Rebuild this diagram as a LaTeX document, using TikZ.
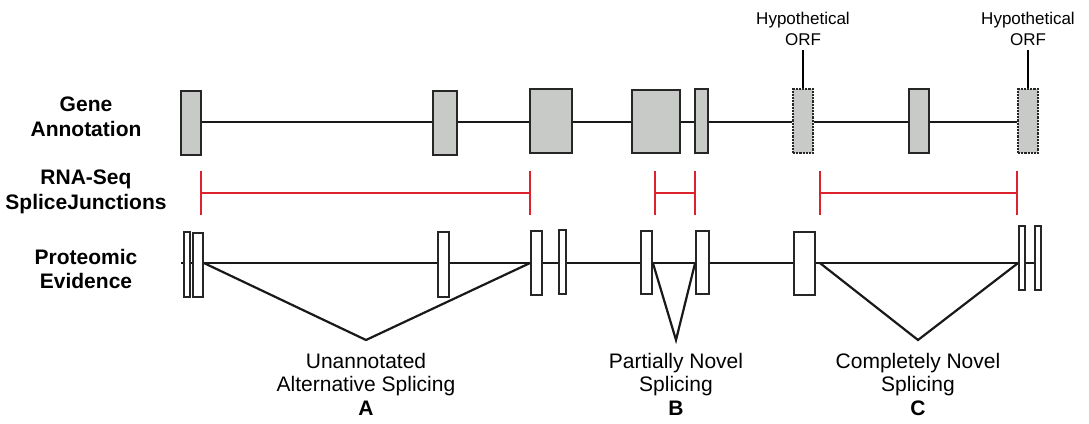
\documentclass[tikz,border=0pt]{standalone}
\usepackage{fontspec}
\setmainfont{Liberation Sans}
\begin{document}
\begin{tikzpicture}[x=1pt,y=-1pt,
  gbox/.style={draw=black!85,line width=2pt,fill=gfill,inner sep=0pt,rectangle},
  dbox/.style={draw=black!85,line width=2.2pt,densely dotted,fill=gfill,inner sep=0pt,rectangle},
  pbox/.style={draw=black!85,line width=1.8pt,fill=white,inner sep=0pt,rectangle},
  intron/.style={draw=black!90,line width=2.2pt},
  junc/.style={draw=jred,line width=2.5pt},
  rowlab/.style={font=\bfseries\fontsize{21}{24.5}\selectfont,align=center},
  caplab/.style={font=\fontsize{21}{23.5}\selectfont,align=center},
  orflab/.style={font=\fontsize{17}{21}\selectfont,align=center}]
\definecolor{gfill}{RGB}{200,202,200}
\definecolor{jred}{RGB}{220,35,45}
\useasboundingbox (0,0) rectangle (1089,423);
% row labels
\node[rowlab] (lg) at (86,117) {Gene\\Annotation};
\node[rowlab] (lr) at (86,192) {RNA-Seq\\SpliceJunctions};
\node[rowlab] (lp) at (86,269) {Proteomic\\Evidence};
% gene annotation
\node[gbox,minimum width=20,minimum height=64] (g1) at (191,123) {};
\node[gbox,minimum width=24,minimum height=64] (g2) at (445,123) {};
\node[gbox,minimum width=42,minimum height=64] (g3) at (551,121) {};
\node[gbox,minimum width=48,minimum height=63] (g4) at (656,121) {};
\node[gbox,minimum width=13,minimum height=64] (g5) at (701.5,121) {};
\node[dbox,minimum width=20,minimum height=64] (g6) at (803,121) {};
\node[gbox,minimum width=20,minimum height=64] (g7) at (919,121) {};
\node[dbox,minimum width=20,minimum height=64] (g8) at (1028,121) {};
\draw[intron] (g1.east |- 0,122) -- (g2.west |- 0,122);
\draw[intron] (g2.east |- 0,122) -- (g3.west |- 0,122);
\draw[intron] (g3.east |- 0,122) -- (g4.west |- 0,122);
\draw[intron] (g4.east |- 0,122) -- (g5.west |- 0,122);
\draw[intron] (g5.east |- 0,122) -- (g6.west |- 0,122);
\draw[intron] (g6.east |- 0,122) -- (g7.west |- 0,122);
\draw[intron] (g7.east |- 0,122) -- (g8.west |- 0,122);
% hypothetical ORF labels
\node[orflab] (o1) at (803,28.5) {Hypothetical\\ORF};
\node[orflab] (o2) at (1028,28.5) {Hypothetical\\ORF};
\draw[line width=2pt] (o1.south) ++(0,1) -- (g6.north);
\draw[line width=2pt] (o2.south) ++(0,1) -- (g8.north);
% RNA-seq splice junctions
\coordinate (ja1) at (201,193); \coordinate (ja2) at (530,193);
\coordinate (jb1) at (655,193); \coordinate (jb2) at (695,193);
\coordinate (jc1) at (820,193); \coordinate (jc2) at (1017,193);
\foreach \a/\b in {ja1/ja2,jb1/jb2,jc1/jc2}{
  \draw[junc] (\a) -- (\b);
  \draw[junc] ([yshift=-22]\a) -- ([yshift=22]\a);
  \draw[junc] ([yshift=-22]\b) -- ([yshift=22]\b);
}
% proteomic evidence
\coordinate (p0) at (181,263);
\node[pbox,minimum width=6,minimum height=65] (pa) at (187,264.5) {};
\node[pbox,minimum width=10,minimum height=64] (pb) at (198,265) {};
\node[pbox,minimum width=11,minimum height=65] (pc) at (443.5,264.5) {};
\node[pbox,minimum width=11,minimum height=64] (pd) at (536.5,263) {};
\node[pbox,minimum width=7,minimum height=64] (pe) at (562.5,262) {};
\node[pbox,minimum width=11,minimum height=63] (pf) at (646.5,262.5) {};
\node[pbox,minimum width=13,minimum height=63] (pg) at (702.5,262.5) {};
\node[pbox,minimum width=21,minimum height=63] (ph) at (804.5,263.5) {};
\node[pbox,minimum width=6,minimum height=64] (pi) at (1022,258) {};
\node[pbox,minimum width=6,minimum height=64] (pj) at (1038,258) {};
\draw[intron] (p0) -- (pa.west |- p0);
\draw[intron] (pa.east |- p0) -- (pb.west |- p0);
\draw[intron] (pb.east |- p0) -- (pc.west |- p0);
\draw[intron] (pc.east |- p0) -- (pd.west |- p0);
\draw[intron] (pd.east |- p0) -- (pe.west |- p0);
\draw[intron] (pe.east |- p0) -- (pf.west |- p0);
\draw[intron] (pf.east |- p0) -- (pg.west |- p0);
\draw[intron] (pg.east |- p0) -- (ph.west |- p0);
\draw[intron] (ph.east |- p0) -- (pi.west |- p0);
\draw[intron] (pi.east |- p0) -- (pj.west |- p0);
% splicing V shapes
\coordinate (vA) at (366,340);
\coordinate (vB) at (676,340);
\coordinate (vC) at (918,340);
\draw[intron,line join=miter] (pb.east |- p0) -- (vA) -- (pd.west |- p0);
\draw[intron,line join=miter] (pf.east |- p0) -- (vB) -- (pg.west |- p0);
\draw[intron,line join=miter] ([xshift=4]ph.east |- p0) -- (vC) -- (pi.west |- p0);
% captions
\node[caplab] (cA) at (366,384) {Unannotated\\Alternative Splicing\\\textbf{A}};
\node[caplab] (cB) at (676,384) {Partially Novel\\Splicing\\\textbf{B}};
\node[caplab] (cC) at (918,384) {Completely Novel\\Splicing\\\textbf{C}};
\end{tikzpicture}
\end{document}
